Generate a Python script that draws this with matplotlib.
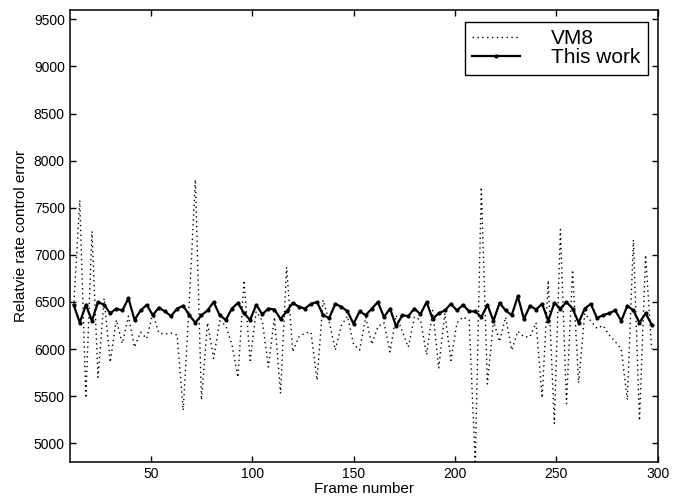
import matplotlib
matplotlib.use("Agg")
import matplotlib.pyplot as plt
import numpy as np

plt.rcParams["font.family"] = ["Liberation Sans", "DejaVu Sans"]

# frame numbers (every 3rd frame)
frames = np.arange(12, 300, 3)

# relative rate control error
vm8 = [6450, 7580, 5480, 7250, 5700, 6540, 5860, 6310, 6060, 6350,
       6020, 6180, 6110, 6380, 6170, 6160, 6170, 6150, 5350, 6500,
       7800, 5460, 6280, 5900, 6300, 6250, 6050, 5700, 6730, 5880,
       6400, 6300, 5810, 6340, 5530, 6870, 5970, 6130, 6170, 6180,
       5670, 6520, 6290, 5990, 6250, 6350, 6050, 5990, 6340, 6050,
       6240, 6280, 5970, 6360, 6190, 6020, 6340, 6310, 5940, 6410,
       5800, 6380, 5880, 6280, 6340, 6310, 4780, 7720, 5630, 6300,
       6080, 6340, 5990, 6190, 6130, 6130, 6280, 5480, 6730, 5210,
       7270, 5420, 6840, 5640, 6380, 6300, 6220, 6250, 6150, 6080,
       6000, 5460, 7160, 5240, 7000, 6000]

this_work = [6470, 6280, 6470, 6300, 6500, 6470, 6380, 6430, 6410, 6540,
             6310, 6410, 6470, 6360, 6440, 6400, 6350, 6430, 6460, 6360,
             6280, 6360, 6410, 6500, 6360, 6310, 6430, 6490, 6380, 6310,
             6470, 6370, 6430, 6420, 6320, 6400, 6490, 6450, 6430, 6480,
             6500, 6360, 6330, 6480, 6450, 6400, 6270, 6400, 6360, 6430,
             6500, 6340, 6430, 6240, 6360, 6350, 6430, 6370, 6500, 6320,
             6380, 6410, 6480, 6410, 6470, 6400, 6400, 6340, 6470, 6300,
             6490, 6410, 6360, 6560, 6320, 6460, 6420, 6480, 6300, 6490,
             6430, 6500, 6430, 6280, 6430, 6480, 6330, 6360, 6380, 6410,
             6300, 6460, 6410, 6280, 6380, 6260]

yticks = [5000, 5500, 6000, 6500, 7000, 7500, 8000, 8500, 9000, 9500]
xticks = [50, 100, 150, 200, 250, 300]

fig = plt.figure(figsize=(6.76, 4.98), dpi=100)
ax = fig.add_axes([0.103, 0.072, 0.870, 0.908])

ax.plot(frames, vm8, linestyle=(0, (1, 2.5)), color="black", lw=1.0, label="VM8")
ax.plot(frames, this_work, "-", color="black", lw=1.6, marker=".", ms=4, label="This work")

ax.set_xlim(10, 300)
ax.set_ylim(4800, 9600)
ax.set_xticks(xticks)
ax.set_yticks(yticks)
ax.tick_params(direction="in", top=True, right=True, labelsize=10, length=4, width=1)
for s in ax.spines.values():
    s.set_linewidth(1.1)

ax.set_xlabel("Frame number", fontsize=11, labelpad=1)
ax.set_ylabel("Relatvie rate control error", fontsize=11, labelpad=4)

leg = ax.legend(loc="upper right", bbox_to_anchor=(0.983, 0.9735), fontsize=15,
                frameon=True, fancybox=False, framealpha=1, edgecolor="black",
                handlelength=2.3, handletextpad=1.5, labelspacing=0.0,
                borderpad=0.35, borderaxespad=0)
leg.get_frame().set_linewidth(1.0)

fig.savefig("out.png", dpi=100)
